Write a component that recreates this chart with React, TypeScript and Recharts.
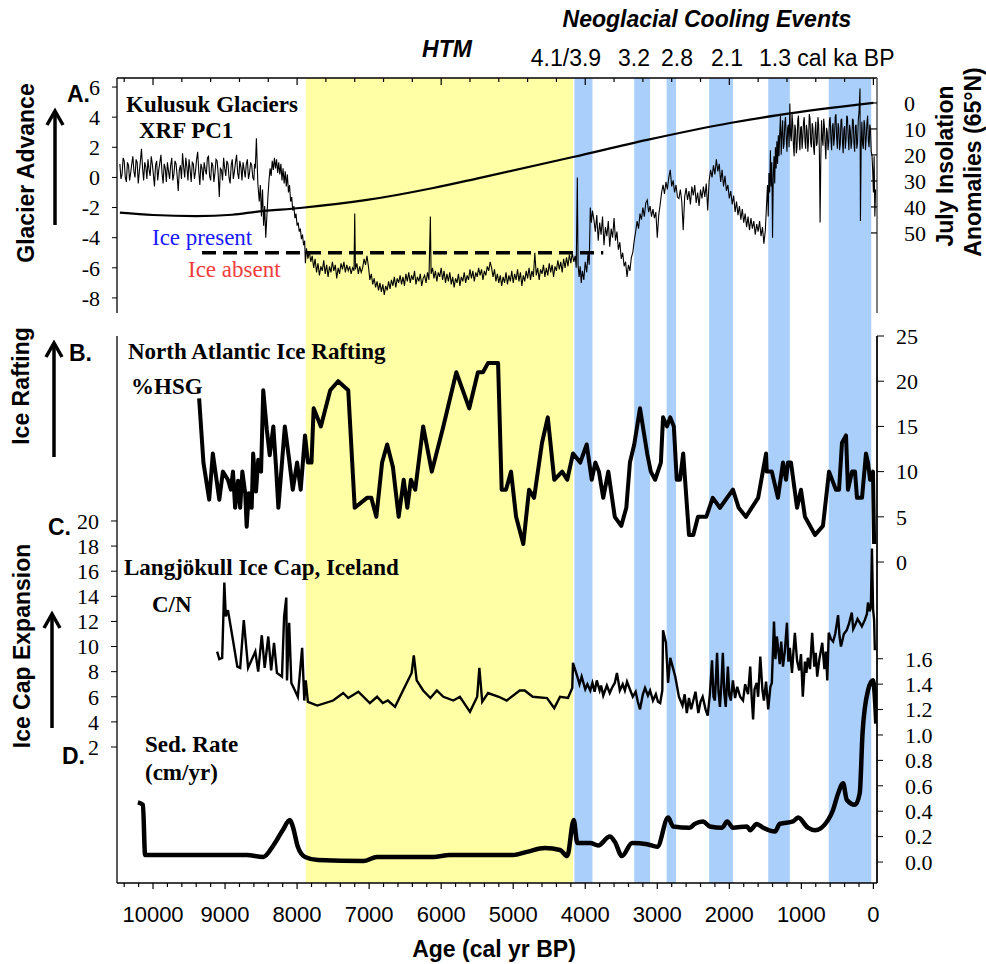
import { ComposedChart, Line, XAxis, YAxis, ReferenceArea } from 'recharts';

const SERIF = '"Liberation Serif", "Times New Roman", serif';
const SANS = '"Liberation Sans", Arial, sans-serif';

const W = 986;
const H = 964;
const PLOT_L = 117;
const PLOT_R = 877;
const A_TOP = 78;
const A_BOT = 313;
const LOW_TOP = 336;
const AXIS_Y = 883;
const X_DOMAIN: [number, number] = [-50, 10500];

// shaded intervals (cal yr BP)
const HTM_BAND: [number, number] = [7880, 4170];
const COOLING_BANDS: [number, number][] = [
  [4150, 3900], [3320, 3100], [2870, 2740], [2280, 1950], [1460, 1160], [620, 30],
];

const BOTTOM_MAJOR = [0, 1000, 2000, 3000, 4000, 5000, 6000, 7000, 8000, 9000, 10000];
const BOTTOM_TICKS = Array.from({ length: 53 }, (_, i) => i * 200);
const TOP_TICKS = Array.from({ length: 27 }, (_, i) => i * 400);
const PC1_TICKS = [-8, -6, -4, -2, 0, 2, 4, 6];
const INSOL_TICKS = [0, 10, 20, 30, 40, 50];
const HSG_TICKS = [0, 5, 10, 15, 20, 25];
const CN_TICKS = [2, 4, 6, 8, 10, 12, 14, 16, 18, 20];
const SED_TICKS = [0, 0.2, 0.4, 0.6, 0.8, 1.0, 1.2, 1.4, 1.6];

// A. Kulusuk XRF PC1 [age, value]
const XRF_PC1: [number, number][] = [
  [10460,0.9],[10445,-0.1],[10430,0.2],[10415,1.3],[10400,1.1],[10385,0.0],[10370,-0.3],[10355,1.0],[10340,0.8],[10325,-0.2],
  [10310,0.3],[10295,0.9],[10280,1.4],[10265,0.4],[10250,0.0],[10235,1.2],[10220,1.0],[10205,-0.4],[10190,0.4],[10175,1.1],
  [10160,1.9],[10145,0.6],[10130,-0.2],[10115,1.0],[10100,0.7],[10085,-0.1],[10070,1.2],[10055,0.5],[10040,0.1],[10025,1.4],
  [10010,0.9],[9995,0.2],[9980,-0.6],[9965,0.8],[9950,1.1],[9935,-0.2],[9920,0.5],[9905,1.0],[9890,1.5],[9875,0.3],
  [9860,-0.4],[9845,0.9],[9830,0.6],[9815,-0.3],[9800,1.0],[9785,0.4],[9770,-0.1],[9755,0.8],[9740,1.3],[9725,-0.2],
  [9710,0.2],[9695,1.1],[9680,0.9],[9665,0.1],[9650,-0.9],[9635,0.5],[9620,0.8],[9605,-0.1],[9590,1.6],[9575,0.7],
  [9560,0.0],[9545,1.3],[9530,0.7],[9515,-0.2],[9500,1.2],[9485,0.5],[9470,-0.3],[9455,1.0],[9440,0.9],[9425,-0.1],
  [9410,0.4],[9395,1.2],[9380,1.7],[9365,0.4],[9350,-0.5],[9335,0.9],[9320,0.6],[9305,-0.2],[9290,1.0],[9275,0.5],
  [9260,0.2],[9245,1.3],[9230,1.4],[9215,0.1],[9200,-0.2],[9185,1.0],[9170,0.8],[9155,-0.3],[9140,0.3],[9125,1.2],
  [9110,1.1],[9095,0.2],[9080,-1.3],[9065,0.6],[9050,0.5],[9035,-0.2],[9020,1.3],[9005,0.6],[8990,0.1],[8975,1.1],
  [8960,0.9],[8945,0.0],[8930,-0.4],[8915,0.8],[8900,1.2],[8885,-0.1],[8870,0.4],[8855,1.0],[8840,1.5],[8825,0.3],
  [8810,-0.1],[8795,1.1],[8780,0.7],[8765,-0.2],[8750,1.0],[8735,0.5],[8720,0.0],[8705,0.9],[8690,1.2],[8675,-0.1],
  [8660,0.3],[8645,1.0],[8630,0.8],[8615,0.0],[8600,-0.2],[8590,0.9],[8580,0.6],[8565,2.6],[8545,-0.4],[8525,-1.6],
  [8510,-0.5],[8495,-2.6],[8480,-0.8],[8465,-3.2],[8450,-1.9],[8435,-4.0],[8420,-2.6],[8405,-1.3],[8390,-0.2],[8375,0.6],
  [8360,0.1],[8345,1.1],[8330,0.5],[8315,1.3],[8300,0.6],[8285,1.2],[8270,0.3],[8255,1.0],[8240,0.2],[8225,0.9],
  [8210,-0.2],[8195,0.6],[8180,-0.4],[8165,0.4],[8150,-0.6],[8135,0.2],[8120,-1.0],[8105,-0.5],[8090,-1.6],[8075,-1.3],
  [8060,-2.2],[8045,-1.9],[8030,-2.7],[8015,-2.4],[8000,-3.2],[7985,-3.0],[7970,-3.6],[7955,-3.4],[7940,-4.1],[7925,-3.8],
  [7910,-4.5],[7895,-4.2],[7885,-5.7],[7870,-4.7],[7850,-5.4],[7830,-4.9],[7810,-5.6],[7790,-5.2],[7770,-6.0],[7750,-5.4],
  [7730,-6.3],[7710,-5.7],[7690,-6.5],[7670,-5.9],[7650,-6.2],[7630,-5.5],[7610,-6.4],[7590,-5.8],[7570,-6.6],[7550,-5.9],
  [7530,-6.3],[7510,-5.6],[7490,-6.2],[7470,-5.8],[7450,-6.7],[7430,-6.0],[7410,-6.4],[7390,-5.7],[7370,-6.1],[7350,-5.6],
  [7330,-6.3],[7310,-5.8],[7290,-6.2],[7270,-5.9],[7250,-6.4],[7230,-6.0],[7210,-6.2],[7200,-2.4],[7190,-6.1],[7170,-5.7],
  [7150,-6.4],[7130,-5.9],[7110,-6.3],[7090,-6.0],[7070,-5.4],[7050,-5.8],[7030,-5.2],[7010,-5.9],[6990,-6.8],[6970,-6.4],
  [6950,-7.1],[6930,-6.7],[6910,-7.3],[6890,-6.9],[6870,-7.5],[6850,-7.0],[6830,-7.6],[6810,-7.1],[6790,-7.8],[6770,-7.2],
  [6750,-7.5],[6730,-6.9],[6710,-7.4],[6690,-6.8],[6670,-7.2],[6650,-6.6],[6630,-7.3],[6610,-6.7],[6590,-7.0],[6570,-6.5],
  [6550,-7.1],[6530,-6.6],[6510,-7.2],[6490,-6.4],[6470,-6.9],[6450,-6.3],[6430,-7.0],[6410,-6.5],[6390,-6.8],[6370,-6.2],
  [6350,-7.1],[6330,-6.6],[6310,-6.9],[6290,-6.4],[6270,-7.2],[6250,-6.7],[6230,-6.5],[6210,-7.0],[6190,-6.3],[6170,-6.8],
  [6150,-2.6],[6140,-6.4],[6120,-6.0],[6100,-6.7],[6080,-6.2],[6060,-6.9],[6040,-6.3],[6020,-6.6],[6000,-6.0],[5980,-6.8],
  [5960,-6.2],[5940,-7.0],[5920,-6.4],[5900,-6.9],[5880,-6.3],[5860,-7.1],[5840,-6.6],[5820,-7.3],[5800,-6.7],[5780,-7.0],
  [5760,-6.4],[5740,-7.2],[5720,-6.6],[5700,-6.9],[5680,-6.3],[5660,-7.0],[5640,-6.5],[5620,-6.8],[5600,-6.1],[5580,-6.7],
  [5560,-6.2],[5540,-6.9],[5520,-6.3],[5500,-6.6],[5480,-6.0],[5460,-6.5],[5440,-6.1],[5420,-6.8],[5400,-6.2],[5380,-6.5],
  [5360,-5.9],[5340,-6.2],[5320,-5.6],[5300,-6.0],[5280,-6.6],[5260,-6.1],[5240,-6.9],[5220,-6.4],[5200,-7.0],[5180,-6.5],
  [5160,-7.2],[5140,-6.6],[5120,-7.0],[5100,-6.3],[5080,-7.1],[5060,-6.5],[5040,-6.9],[5020,-6.2],[5000,-7.0],[4980,-6.4],
  [4960,-6.8],[4940,-6.1],[4920,-6.9],[4900,-6.3],[4880,-7.2],[4860,-6.5],[4840,-6.9],[4820,-6.2],[4800,-6.7],[4780,-6.0],
  [4760,-6.8],[4740,-6.2],[4720,-6.6],[4700,-5.0],[4680,-6.5],[4660,-6.0],[4640,-6.8],[4620,-6.1],[4600,-6.4],[4580,-5.8],
  [4560,-6.6],[4540,-6.0],[4520,-6.5],[4500,-5.7],[4480,-6.3],[4460,-5.8],[4440,-6.6],[4420,-5.9],[4400,-6.2],[4380,-5.5],
  [4360,-6.1],[4340,-5.6],[4320,-6.3],[4300,-5.4],[4280,-6.0],[4260,-5.3],[4240,-5.9],[4220,-5.1],[4200,-5.7],[4180,-5.0],
  [4160,-5.6],[4140,-5.2],[4125,-6.0],[4110,0.0],[4100,-5.8],[4085,-6.6],[4070,-5.9],[4055,-7.0],[4040,-6.2],[4020,-6.8],
  [4000,-5.6],[3980,-6.3],[3960,-5.0],[3945,-5.8],[3930,-2.0],[3915,-3.0],[3900,-2.2],[3880,-2.8],[3860,-3.6],[3840,-2.5],
  [3820,-4.2],[3800,-3.0],[3780,-3.8],[3760,-2.6],[3740,-4.5],[3720,-3.3],[3700,-3.9],[3680,-2.9],[3660,-4.6],[3640,-3.4],
  [3620,-4.0],[3600,-2.7],[3580,-4.2],[3560,-3.6],[3540,-4.8],[3520,-4.3],[3500,-5.4],[3480,-5.0],[3460,-5.9],[3440,-5.6],
  [3420,-6.6],[3400,-5.8],[3380,-6.2],[3360,-5.3],[3340,-5.0],[3320,-4.2],[3300,-3.6],[3280,-2.9],[3260,-3.4],[3240,-2.4],
  [3220,-2.8],[3200,-2.0],[3180,-2.6],[3160,-1.7],[3140,-1.5],[3120,-2.3],[3100,-1.9],[3080,-2.6],[3060,-2.1],[3040,-2.7],
  [3020,-2.3],[3000,-4.0],[2980,-2.5],[2960,-1.8],[2940,-1.0],[2920,-0.5],[2900,-1.1],[2880,-0.3],[2860,-0.8],[2840,0.0],
  [2820,0.5],[2800,-0.6],[2780,-0.2],[2760,-1.0],[2740,-0.5],[2720,-1.3],[2700,-1.4],[2680,-0.8],[2660,-1.6],[2640,-3.5],
  [2620,-1.3],[2600,-0.7],[2580,-1.5],[2560,-0.9],[2540,-1.8],[2520,-0.6],[2500,-1.2],[2480,-0.5],[2460,-1.7],[2440,-1.0],
  [2420,-1.9],[2400,-0.8],[2380,-1.4],[2360,-0.6],[2340,-1.3],[2320,-0.4],[2300,-2.2],[2280,-0.2],[2260,0.5],[2240,0.0],
  [2220,0.8],[2200,0.2],[2180,1.2],[2160,0.4],[2140,0.9],[2120,-0.3],[2100,0.5],[2080,-0.6],[2060,0.1],[2040,-0.9],
  [2020,-0.5],[2000,-1.4],[1980,-0.9],[1960,-1.8],[1940,-1.2],[1920,-2.3],[1900,-1.6],[1880,-2.5],[1860,-1.9],[1840,-2.8],
  [1820,-2.1],[1800,-3.0],[1780,-2.4],[1760,-3.3],[1740,-2.6],[1720,-3.5],[1700,-2.7],[1680,-3.4],[1660,-2.9],[1640,-3.8],
  [1620,-3.1],[1600,-3.6],[1580,-2.9],[1560,-3.9],[1540,-3.3],[1520,-4.4],[1500,-3.5],[1485,-2.0],[1470,-0.5],[1460,-2.6],
  [1450,0.3],[1440,-1.0],[1430,1.8],[1420,-0.6],[1410,1.0],[1400,-4.0],[1390,0.0],[1380,1.4],[1370,-0.4],[1360,2.0],
  [1350,0.6],[1340,2.4],[1330,0.9],[1320,2.8],[1310,1.4],[1300,3.0],[1290,4.1],[1280,1.5],[1270,2.9],[1260,3.8],
  [1250,1.9],[1240,2.2],[1230,3.6],[1220,4.0],[1210,2.6],[1200,1.7],[1190,3.3],[1180,3.5],[1170,2.0],[1160,4.9],
  [1150,2.8],[1140,2.4],[1130,4.2],[1120,3.6],[1110,2.1],[1100,1.4],[1090,3.5],[1080,3.2],[1070,1.6],[1060,2.0],
  [1050,3.8],[1040,4.1],[1030,2.5],[1020,1.8],[1010,3.3],[1000,3.4],[990,1.9],[980,2.6],[970,3.7],[960,4.0],
  [950,2.4],[940,1.9],[930,3.5],[920,3.1],[910,1.7],[900,2.5],[890,4.2],[880,3.9],[870,2.3],[860,2.0],
  [850,3.6],[840,3.3],[830,2.0],[820,1.5],[810,3.0],[800,3.7],[790,2.1],[780,2.3],[770,4.0],[760,3.5],
  [750,1.8],[740,-3.0],[730,1.2],[720,3.8],[710,2.6],[700,2.1],[690,3.9],[680,3.4],[670,2.2],[660,1.2],
  [650,3.3],[640,3.0],[630,1.8],[620,2.4],[610,3.8],[600,4.0],[590,2.5],[580,1.8],[570,3.4],[560,3.6],
  [550,2.1],[540,2.7],[530,4.0],[520,4.2],[510,2.6],[500,1.9],[490,3.6],[480,3.3],[470,1.8],[460,2.2],
  [450,3.8],[440,3.9],[430,2.4],[420,1.6],[410,3.2],[400,3.4],[390,1.9],[380,2.5],[370,4.1],[360,4.0],
  [350,2.6],[340,1.8],[330,3.5],[320,3.1],[310,1.9],[300,2.4],[290,3.9],[280,3.8],[270,2.2],[260,1.7],
  [250,3.4],[240,3.5],[230,1.9],[220,2.3],[210,3.8],[200,4.3],[186,5.9],[180,-2.9],[170,2.0],[160,3.7],
  [150,2.2],[140,1.9],[130,3.8],[120,3.5],[110,1.8],[100,2.6],[90,3.6],[80,4.1],[70,2.4],[60,2.0],
  [50,3.5],[40,3.2],[30,1.7],[20,1.5],[10,0.5],[0,-1.0],[-10,1.4],[-20,-2.6],[-30,-0.8],
];

// A. July insolation anomaly (65N), right axis
const INSOLATION: [number, number][] = [
  [10460,42.2],[10000,43.1],[9400,43.5],[8900,43.0],[8550,41.8],[7960,40.4],[7030,37.3],
  [6110,32.7],[5460,28.8],[4170,20.8],[3140,14.2],[1990,7.7],[1300,4.6],[0,0],
];

// A. ice present / absent threshold
const ICE_THRESHOLD: [number, number][] = [[9320,-5],[3750,-5]];

// B. %HSG
const HSG: [number, number][] = [
  [9360,18.1],[9300,11],[9220,6.9],[9170,12],[9080,6.9],[9030,10],[8960,9.1],[8920,8],[8890,10],[8860,6],
  [8820,9],[8790,6],[8760,10],[8720,7.6],[8700,3.9],[8670,7.6],[8630,6],[8610,12],[8570,7.8],[8540,11.3],
  [8500,10],[8470,19],[8420,14.6],[8380,11.8],[8330,15],[8290,10.2],[8260,6],[8170,15],[8110,11.3],[8060,8],
  [8000,11],[7950,8],[7890,14],[7850,11],[7800,11],[7770,17],[7670,15],[7540,19],[7430,20],[7290,19],
  [7200,6],[7030,7.1],[6970,7.1],[6900,5],[6820,11],[6750,13],[6670,10.5],[6590,5],[6520,9.1],[6470,6],
  [6420,9.1],[6360,8],[6250,15],[6130,10],[5970,15],[5790,21],[5610,17],[5490,21],[5420,21],[5350,22],
  [5210,22],[5160,8],[5100,8],[5030,10],[4960,5],[4860,2],[4780,8],[4710,7.1],[4600,13.2],[4520,16],
  [4430,9.1],[4320,10],[4250,9.1],[4170,12],[4070,11],[3980,13],[3910,9.1],[3860,11],[3810,10],[3750,7.1],
  [3680,10],[3590,5],[3500,4],[3430,6],[3380,11],[3320,13],[3240,17],[3140,12],[3090,10],[3030,9.1],
  [2950,11],[2920,16],[2865,15],[2820,16],[2770,15],[2730,9.1],[2685,9.1],[2640,12],[2560,3],[2500,3],
  [2435,5],[2320,5],[2230,7.1],[2130,6],[1950,8],[1870,6],[1770,5],[1600,7.1],[1490,12],[1480,10],
  [1410,10],[1325,7.1],[1255,11],[1213,9.1],[1185,11],[1144,11],[1060,6],[1005,8],[950,5],[810,3],
  [700,4],[616,10],[520,8],[477,8],[436,13.2],[380,14],[353,8],[297,10],[255,10],[228,7.1],
  [158,7.1],[103,12],[75,11],[47,9.1],[6,10],[-10,2],
];

// C. Langjokull C/N
const CN_RATIO: [number, number][] = [
  [9110,9.6],[9080,9.0],[9040,9.1],[9010,15.1],[8990,12.4],[8960,12.9],[8890,10.5],[8830,8.4],[8790,8.3],[8740,12.1],
  [8680,8.3],[8580,9.6],[8540,8.0],[8490,10.9],[8450,8.3],[8400,10.8],[8360,8.1],[8320,10.3],[8280,7.9],[8210,7.6],
  [8180,12.4],[8150,13.9],[8140,7.3],[8110,11.9],[8080,7.1],[8030,6.5],[7990,6.0],[7930,9.9],[7900,5.7],[7880,7.3],
  [7850,5.6],[7720,5.3],[7500,5.7],[7360,6.3],[7290,5.9],[7150,6.4],[6990,5.5],[6890,6.0],[6810,5.5],[6740,5.7],
  [6640,5.2],[6530,6.5],[6410,7.9],[6380,9.3],[6340,7.3],[6250,6.5],[6150,5.9],[6060,6.5],[5970,6.0],[5830,5.7],
  [5740,6.0],[5600,4.8],[5500,6.0],[5470,8.3],[5430,5.6],[5350,6.3],[5200,6.0],[5090,5.7],[4910,6.5],[4840,6.5],
  [4730,6.0],[4530,5.9],[4430,5.1],[4350,6.0],[4240,5.9],[4180,6.7],[4170,8.7],[4110,7.6],[4080,7.0],[4050,7.6],
  [4030,7.2],[4000,6.6],[3970,7.0],[3930,6.5],[3900,7.1],[3870,6.4],[3840,7.3],[3800,6.5],[3780,6.9],[3750,6.1],
  [3700,6.9],[3660,6.3],[3630,6.7],[3590,7.1],[3560,7.9],[3520,6.5],[3480,7.0],[3450,6.5],[3420,7.2],[3380,6.6],
  [3340,6.0],[3300,6.4],[3270,5.6],[3240,5.0],[3200,6.2],[3170,6.7],[3130,6.1],[3100,6.5],[3060,5.7],[3020,6.2],
  [2990,5.6],[2960,5.5],[2930,6.5],[2920,11.3],[2880,10.3],[2850,7.1],[2820,9.1],[2750,7.6],[2700,6.0],[2650,5.3],
  [2620,6.2],[2590,4.7],[2560,5.9],[2530,5.0],[2500,5.7],[2470,6.4],[2430,4.7],[2400,5.6],[2370,6.0],[2330,5.0],
  [2300,4.5],[2270,6.2],[2240,8.9],[2220,6.0],[2200,5.7],[2170,9.5],[2150,6.4],[2130,5.2],[2110,7.0],[2090,9.5],
  [2070,6.3],[2050,5.2],[2020,8.4],[2000,6.1],[1980,5.7],[1950,7.3],[1920,5.9],[1890,6.8],[1850,6.0],[1810,5.7],
  [1780,7.0],[1740,6.2],[1710,8.4],[1690,6.0],[1670,4.2],[1650,6.6],[1620,7.1],[1600,6.0],[1570,9.2],[1540,6.5],
  [1520,5.7],[1490,7.2],[1460,5.0],[1430,6.8],[1410,7.1],[1380,12.0],[1360,9.0],[1340,10.8],[1325,10.0],[1300,8.6],
  [1280,10.4],[1255,8.4],[1230,9.6],[1200,11.9],[1180,8.8],[1160,9.9],[1130,7.9],[1110,9.6],[1090,11.1],[1060,8.9],
  [1030,8.1],[1005,9.4],[980,6.0],[950,8.8],[930,7.9],[910,9.1],[880,8.2],[850,11.1],[820,8.4],[800,9.5],
  [780,7.6],[750,9.0],[710,10.3],[680,8.2],[660,9.6],[640,7.3],[620,11.1],[590,10.6],[560,10.4],[530,11.0],
  [490,12.5],[470,10.8],[450,10.0],[410,11.0],[370,11.3],[340,11.8],[300,12.7],[280,11.4],[255,11.7],[220,12.2],
  [190,11.9],[160,11.6],[120,12.1],[90,12.6],[75,13.5],[50,12.8],[35,13.2],[20,17.8],[5,13.0],[-10,12.1],
  [-20,9.7],
];

// D. sedimentation rate (cm/yr)
const SED_RATE: [number, number][] = [
  [10210,0.47],[10140,0.45],[10110,0.055],[9350,0.055],[8700,0.055],[8470,0.04],[8330,0.13],[8200,0.25],[8100,0.33],[8060,0.28],
  [7990,0.12],[7890,0.04],[7710,0.016],[7080,0.008],[6890,0.04],[6110,0.04],[5880,0.055],[5000,0.055],[4810,0.08],[4560,0.11],
  [4350,0.095],[4250,0.047],[4160,0.33],[4110,0.15],[3930,0.15],[3820,0.13],[3660,0.2],[3590,0.16],[3490,0.047],[3350,0.15],
  [3140,0.14],[3000,0.12],[2850,0.35],[2780,0.28],[2550,0.27],[2480,0.3],[2365,0.32],[2270,0.28],[2100,0.27],[2030,0.32],
  [1950,0.27],[1755,0.28],[1710,0.25],[1620,0.3],[1530,0.27],[1365,0.24],[1300,0.3],[1115,0.32],[1045,0.35],[910,0.27],
  [810,0.25],[630,0.33],[560,0.41],[490,0.54],[420,0.62],[370,0.49],[255,0.45],[190,0.54],[150,1.02],[75,1.35],
  [6,1.43],[-40,1.09],
];

const BG_DATA = [{ age: 0, y: 0 }, { age: 10000, y: 1 }];

const rows = (pairs: [number, number][]) => pairs.map(([age, v]) => ({ age, v }));

const BottomTick = (props: any) => {
  const { x, payload } = props;
  const major = BOTTOM_MAJOR.includes(payload.value);
  return (
    <g>
      <line x1={x} x2={x} y1={AXIS_Y} y2={AXIS_Y + (major ? 6 : 4)} stroke="#000" strokeWidth={1.2} />
      {major && (
        <text x={x} y={922} textAnchor="middle" fontFamily={SANS} fontSize={22} fill="#000">
          {payload.value}
        </text>
      )}
    </g>
  );
};

const TopTick = (props: any) => {
  const { x, payload } = props;
  const major = payload.value % 2000 === 0;
  return <line x1={x} x2={x} y1={A_TOP} y2={A_TOP + (major ? 7 : 4)} stroke="#000" strokeWidth={1.2} />;
};

const InsolTick = (props: any) => {
  const { y, payload } = props;
  return (
    <g>
      <line x1={PLOT_R - 6} x2={PLOT_R} y1={y} y2={y} stroke="#000" strokeWidth={1.2} />
      <text x={904} y={y} dy="0.35em" fontFamily={SERIF} fontSize={22} fill="#000">{payload.value}</text>
    </g>
  );
};

const serifTick = { fill: '#000', fontSize: 22, fontFamily: SERIF };
const layer = { position: 'absolute' as const, left: 0, top: 0 };

function Arrow({ x, top, bottom }: { x: number; top: number; bottom: number }) {
  return (
    <g stroke="#000" strokeWidth={3.5} fill="none">
      <line x1={x} x2={x} y1={top + 2} y2={bottom} />
      <polyline points={`${x - 8},${top + 15} ${x},${top + 1} ${x + 8},${top + 15}`} strokeLinejoin="miter" />
    </g>
  );
}

export default function App() {
  const xrf = rows(XRF_PC1);
  const insol = rows(INSOLATION);
  const ice = rows(ICE_THRESHOLD);
  const hsg = rows(HSG);
  const cn = rows(CN_RATIO);
  const sed = rows(SED_RATE);

  return (
    <div style={{ position: 'relative', width: W, height: H, background: '#fff', overflow: 'hidden' }}>
      <style>{'body{margin:0}'}</style>

      {/* shading + age axis */}
      <div style={layer}>
        <ComposedChart width={W} height={H} data={BG_DATA}
          margin={{ top: A_TOP, right: W - PLOT_R, bottom: H - AXIS_Y - 40, left: PLOT_L }}>
          <XAxis type="number" dataKey="age" domain={X_DOMAIN} reversed allowDataOverflow ticks={BOTTOM_TICKS}
            interval={0} height={40} tickLine={false} tick={(p: any) => <BottomTick {...p} />}
            axisLine={{ stroke: '#000', strokeWidth: 1.3 }} />
          <YAxis yAxisId="bg" hide domain={[0, 1]} allowDataOverflow />
          <ReferenceArea yAxisId="bg" x1={HTM_BAND[0]} x2={HTM_BAND[1]} y1={0} y2={1} ifOverflow="visible"
            fill="#ffffa6" fillOpacity={1} stroke="none" />
          {COOLING_BANDS.map(([a, b], i) => (
            <ReferenceArea key={`band-${i}`} yAxisId="bg" x1={a} x2={b} y1={0} y2={1} ifOverflow="visible"
              fill="#aacffa" fillOpacity={1} stroke="none" />
          ))}
          <Line yAxisId="bg" dataKey="y" stroke="none" dot={false} isAnimationActive={false} />
        </ComposedChart>
      </div>

      {/* A. glacier PC1 + insolation */}
      <div style={layer}>
        <ComposedChart width={W} height={H}
          margin={{ top: A_TOP - 10, right: W - PLOT_R - 60, bottom: H - A_BOT, left: PLOT_L - 60 }}>
          <XAxis type="number" dataKey="age" orientation="top" domain={X_DOMAIN} reversed allowDataOverflow
            ticks={TOP_TICKS} interval={0} height={10} tickLine={false} tick={(p: any) => <TopTick {...p} />}
            axisLine={{ stroke: '#000', strokeWidth: 1.3 }} />
          <YAxis yAxisId="pc1" width={60} domain={[-9, 6.6]} allowDataOverflow ticks={PC1_TICKS} interval={0}
            tickSize={5} tickMargin={12} tick={serifTick} axisLine={{ stroke: '#000', strokeWidth: 1.3 }}
            tickLine={{ stroke: '#000' }} />
          <YAxis yAxisId="ins" orientation="right" width={60} reversed domain={[-9.6, 80.8]} allowDataOverflow
            ticks={INSOL_TICKS} interval={0} tickLine={false} tick={(p: any) => <InsolTick {...p} />}
            axisLine={{ stroke: '#555', strokeWidth: 1.5 }} />
          <Line yAxisId="ins" data={insol} dataKey="v" type="monotone" stroke="#000" strokeWidth={2.2} dot={false} isAnimationActive={false} />
          <Line yAxisId="pc1" data={xrf} dataKey="v" type="linear" stroke="#000" strokeWidth={1.1} dot={false} isAnimationActive={false} />
          <Line yAxisId="pc1" data={ice} dataKey="v" stroke="#000" strokeWidth={3.5} strokeDasharray="14 7" dot={false} isAnimationActive={false} />
        </ComposedChart>
      </div>

      {/* B. HSG + C. C/N */}
      <div style={layer}>
        <ComposedChart width={W} height={H}
          margin={{ top: LOW_TOP, right: W - PLOT_R - 60, bottom: H - AXIS_Y, left: PLOT_L - 60 }}>
          <XAxis type="number" dataKey="age" domain={X_DOMAIN} reversed allowDataOverflow hide />
          <YAxis yAxisId="cn" width={60} domain={[-8.83, 34.73]} allowDataOverflow ticks={CN_TICKS} interval={0}
            tickSize={6} tickMargin={12} tick={serifTick} axisLine={{ stroke: '#000', strokeWidth: 1.3 }}
            tickLine={{ stroke: '#000' }} />
          <YAxis yAxisId="hsg" orientation="right" width={60} domain={[-35.5, 25]} allowDataOverflow ticks={HSG_TICKS}
            interval={0} tickSize={7} tickMargin={12} tick={serifTick} axisLine={{ stroke: '#000', strokeWidth: 1.3 }}
            tickLine={{ stroke: '#000' }} />
          <Line yAxisId="hsg" data={hsg} dataKey="v" type="linear" stroke="#000" strokeWidth={4} strokeLinejoin="round" dot={false} isAnimationActive={false} />
          <Line yAxisId="cn" data={cn} dataKey="v" type="linear" stroke="#000" strokeWidth={2.4} dot={false} isAnimationActive={false} />
        </ComposedChart>
      </div>

      {/* D. sedimentation rate */}
      <div style={layer}>
        <ComposedChart width={W} height={H}
          margin={{ top: LOW_TOP, right: W - PLOT_R - 60, bottom: H - AXIS_Y, left: PLOT_L }}>
          <XAxis type="number" dataKey="age" domain={X_DOMAIN} reversed allowDataOverflow hide />
          <YAxis yAxisId="sed" orientation="right" width={60} domain={[-0.165, 4.14]} allowDataOverflow ticks={SED_TICKS}
            interval={0} tickSize={6} tickMargin={22} tick={serifTick} tickFormatter={(v: number) => v.toFixed(1)}
            axisLine={{ stroke: '#000', strokeWidth: 1.3 }} tickLine={{ stroke: '#000' }} />
          <Line yAxisId="sed" data={sed} dataKey="v" type="monotone" stroke="#000" strokeWidth={4.5} dot={false} isAnimationActive={false} />
        </ComposedChart>
      </div>

      {/* labels */}
      <svg width={W} height={H} style={{ ...layer, pointerEvents: 'none' }}>
        <g fontFamily={SANS} fontWeight="bold" fontStyle="italic" fontSize={23} fill="#000" textAnchor="middle">
          <text x={707} y={27}>Neoglacial Cooling Events</text>
          <text x={447} y={57}>HTM</text>
        </g>
        <g fontFamily={SANS} fontSize={23} fill="#000">
          <text x={566} y={66} textAnchor="middle">4.1/3.9</text>
          <text x={634} y={66} textAnchor="middle">3.2</text>
          <text x={677} y={66} textAnchor="middle">2.8</text>
          <text x={727} y={66} textAnchor="middle">2.1</text>
          <text x={759} y={66}>1.3 cal ka BP</text>
        </g>
        <g fontFamily={SANS} fontWeight="bold" fontSize={23} fill="#000">
          <text x={67} y={102}>A.</text>
          <text x={69} y={361}>B.</text>
          <text x={48} y={535}>C.</text>
          <text x={62} y={764}>D.</text>
          <text x={494} y={957} textAnchor="middle">Age (cal yr BP)</text>
          <text transform="translate(34,173) rotate(-90)" textAnchor="middle">Glacier Advance</text>
          <text transform="translate(29,386) rotate(-90)" textAnchor="middle">Ice Rafting</text>
          <text transform="translate(30,646) rotate(-90)" textAnchor="middle">Ice Cap Expansion</text>
          <text transform="translate(953,166) rotate(-90)" textAnchor="middle">July Insolation</text>
          <text transform="translate(981,162) rotate(-90)" textAnchor="middle">Anomalies (65°N)</text>
        </g>
        <g fontFamily={SERIF} fontWeight="bold" fontSize={23} fill="#000">
          <text x={126} y={112}>Kulusuk Glaciers</text>
          <text x={139} y={138}>XRF PC1</text>
          <text x={128} y={359}>North Atlantic Ice Rafting</text>
          <text x={131} y={394}>%HSG</text>
          <text x={124} y={575}>Langjökull Ice Cap, Iceland</text>
          <text x={152} y={612}>C/N</text>
          <text x={145} y={752}>Sed. Rate</text>
          <text x={145} y={780}>(cm/yr)</text>
        </g>
        <g fontFamily={SERIF} fontSize={23}>
          <text x={152} y={245} fill="#1a1aff">Ice present</text>
          <text x={188} y={277} fill="#f03c3c">Ice absent</text>
        </g>
        <Arrow x={55} top={110} bottom={225} />
        <Arrow x={54} top={342} bottom={457} />
        <Arrow x={52} top={613} bottom={728} />
      </svg>
    </div>
  );
}
